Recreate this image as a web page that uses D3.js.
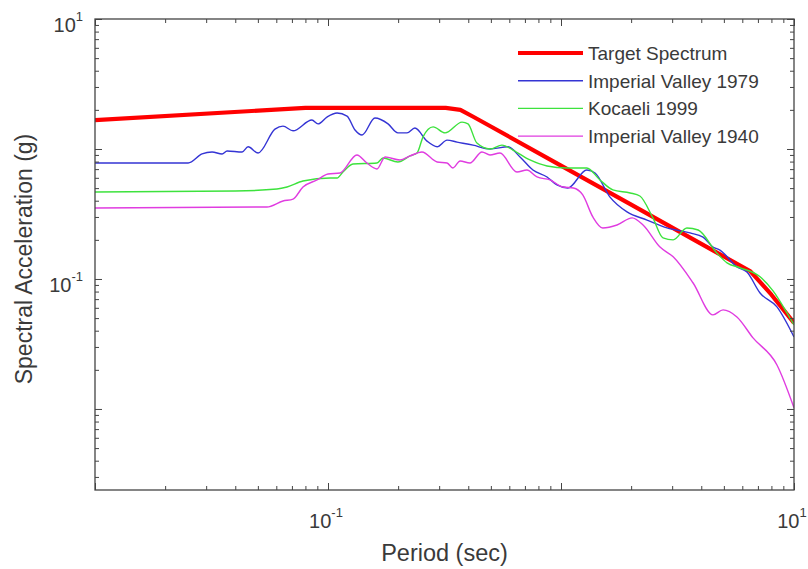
<!DOCTYPE html>
<html><head><meta charset="utf-8">
<script src="https://cdn.jsdelivr.net/npm/d3@7"></script>
<style>
body{margin:0;background:#fff}
svg{display:block}
text{font-family:"Liberation Sans",Arial,sans-serif;fill:#3a3a3a}
</style>
</head><body>
<svg id="chart" width="808" height="569"></svg>
<script>
// axis limits and labelled decades
const periodDomain=[0.01,10];
const accelDomain=[0.00238,10];
const xTickLabels=[{v:0.1,exp:"-1"},{v:10,exp:"1"}];
const yTickLabels=[{v:10,exp:"1"},{v:0.1,exp:"-1"}];

const seriesNames=["Target Spectrum","Imperial Valley 1979","Kocaeli 1999","Imperial Valley 1940"];

// Target Spectrum
const targetT =[0.01,0.08,0.32,0.37,0.42,0.5,1,2,4,6.5,8,10];
const targetSa=[1.67,2.07,2.07,2.0,1.77,1.49,0.745,0.373,0.186,0.1146,0.0757,0.046];

// Imperial Valley 1979
const iv79T =[0.01,0.0251,0.0288,0.0318,0.0351,0.0369,0.0428,0.0454,0.0501,0.0592,0.0641,0.0708,0.0853,0.0906,0.099,0.1094,0.1207,0.1306,0.140,0.159,0.181,0.1995,0.2183,0.236,0.266,0.294,0.3243,0.358,0.419,0.4955,0.593,0.667,0.758,0.871,0.961,1.07,1.29,1.40,1.62,1.92,2.34,2.85,3.58,4.07,4.49,4.81,5.69,6.28,7.15,8.45,10];
const iv79Sa=[0.78,0.78,0.916,0.948,0.916,0.966,0.948,1.04,0.931,1.42,1.50,1.38,1.67,1.56,1.76,1.89,1.79,1.40,1.28,1.73,1.56,1.33,1.33,1.45,1.15,1.04,1.17,1.13,1.07,1.0,1.04,0.868,0.689,0.609,0.529,0.501,0.689,0.654,0.428,0.328,0.284,0.247,0.226,0.21,0.176,0.167,0.124,0.113,0.078,0.061,0.0358];

// Kocaeli 1999
const koc99T =[0.01,0.04,0.0604,0.0667,0.0781,0.102,0.1094,0.1159,0.128,0.1622,0.1722,0.1995,0.2249,0.241,0.2558,0.2825,0.318,0.376,0.399,0.4356,0.4955,0.558,0.622,0.736,0.871,1.06,1.29,1.47,1.67,1.98,2.18,2.48,2.74,3.03,3.47,3.88,4.67,5.16,5.86,7.15,8.13,9.33,10];
const koc99Sa=[0.467,0.475,0.492,0.51,0.567,0.598,0.598,0.665,0.767,0.78,0.853,0.794,0.884,0.931,1.24,1.48,1.33,1.61,1.56,1.11,1.0,1.07,0.982,0.823,0.74,0.714,0.714,0.578,0.484,0.459,0.435,0.295,0.207,0.2,0.247,0.238,0.158,0.133,0.122,0.104,0.0809,0.0548,0.0443];

// Imperial Valley 1940
const iv40T =[0.01,0.0547,0.0641,0.0708,0.0781,0.0897,0.1,0.1127,0.1331,0.1469,0.1622,0.1758,0.2037,0.2249,0.253,0.294,0.3243,0.3436,0.369,0.4064,0.458,0.4955,0.547,0.647,0.714,0.789,0.897,1.02,1.13,1.24,1.37,1.51,1.74,2.02,2.25,2.66,3.03,3.69,4.49,4.96,5.69,6.67,8.45,10];
const iv40Sa=[0.352,0.358,0.398,0.412,0.51,0.578,0.642,0.654,0.9,0.78,0.702,0.868,0.823,0.884,0.948,0.794,0.78,0.714,0.809,0.78,0.948,0.9,0.931,0.665,0.689,0.609,0.578,0.51,0.501,0.443,0.3,0.247,0.26,0.295,0.26,0.176,0.148,0.0931,0.0529,0.0578,0.051,0.0352,0.0218,0.0102];

const series=[
  {name:seriesNames[0],T:targetT,Sa:targetSa,color:"#ff0000",width:4.2,curve:d3.curveLinear},
  {name:seriesNames[1],T:iv79T,Sa:iv79Sa,color:"#3434d4",width:1.4,curve:d3.curveMonotoneX},
  {name:seriesNames[2],T:koc99T,Sa:koc99Sa,color:"#3de23d",width:1.4,curve:d3.curveMonotoneX},
  {name:seriesNames[3],T:iv40T,Sa:iv40Sa,color:"#e03ce0",width:1.4,curve:d3.curveMonotoneX}
];

const svg=d3.select("#chart");
const m={top:19,right:14,bottom:79,left:95};
const W=808,H=569;

const x=d3.scaleLog().domain(periodDomain).range([m.left,W-m.right]);
const y=d3.scaleLog().domain(accelDomain).range([H-m.bottom,m.top]);

const xt=x.ticks();
const yt=y.ticks();
const isMajor=v=>Math.abs(Math.log10(v)-Math.round(Math.log10(v)))<1e-6;

svg.append("defs").append("clipPath").attr("id","plotclip")
  .append("rect").attr("x",m.left).attr("y",m.top)
  .attr("width",W-m.right-m.left).attr("height",H-m.bottom-m.top);

// curves
const plot=svg.append("g").attr("clip-path","url(#plotclip)");
series.forEach(s=>{
  const line=d3.line().curve(s.curve).x(d=>x(d[0])).y(d=>y(d[1]));
  plot.append("path")
    .datum(s.T.map((t,i)=>[t,s.Sa[i]]))
    .attr("fill","none")
    .attr("stroke",s.color)
    .attr("stroke-width",s.width)
    .attr("stroke-linejoin","round")
    .attr("d",line);
});

// axes with inward ticks on all four sides
function tickAxes(axisFn,scale,vals,transform){
  [[vals.filter(v=>!isMajor(v)),4],[vals.filter(isMajor),7]].forEach(([tv,len])=>{
    svg.append("g").attr("transform",transform)
      .call(axisFn(scale).tickValues(tv).tickSize(-len).tickSizeOuter(0).tickFormat(""))
      .call(g=>g.select(".domain").remove())
      .call(g=>g.selectAll(".tick line").attr("stroke","#444"));
  });
}
tickAxes(d3.axisBottom,x,xt,`translate(0,${H-m.bottom})`);
tickAxes(d3.axisTop,x,xt,`translate(0,${m.top})`);
tickAxes(d3.axisLeft,y,yt,`translate(${m.left},0)`);
tickAxes(d3.axisRight,y,yt,`translate(${W-m.right},0)`);

svg.append("rect")
  .attr("x",m.left).attr("y",m.top)
  .attr("width",W-m.right-m.left).attr("height",H-m.bottom-m.top)
  .attr("fill","none").attr("stroke","#444").attr("stroke-width",1.3);

// tick labels 10^n
xTickLabels.forEach(d=>{
  const t=svg.append("text").attr("x",x(d.v)-2).attr("y",H-m.bottom+38)
    .attr("text-anchor","middle").attr("font-size","20px");
  t.append("tspan").text("10");
  t.append("tspan").attr("dy",-11).attr("font-size","13px").text(d.exp);
});
yTickLabels.forEach(d=>{
  const t=svg.append("text").attr("x",m.left-12).attr("y",y(d.v)+13)
    .attr("text-anchor","end").attr("font-size","20px");
  t.append("tspan").text("10");
  t.append("tspan").attr("dy",-11).attr("font-size","13px").text(d.exp);
});

// axis titles
svg.append("text")
  .attr("x",(m.left+W-m.right)/2).attr("y",H-8)
  .attr("text-anchor","middle").attr("font-size","23.5px")
  .text("Period (sec)");
svg.append("text")
  .attr("transform",`translate(32,259) rotate(-90)`)
  .attr("text-anchor","middle").attr("font-size","23px")
  .text("Spectral Acceleration (g)");

// legend
const lg=svg.append("g").attr("transform","translate(518,53)");
series.forEach((s,i)=>{
  const gy=i*27.7;
  lg.append("line").attr("x1",0).attr("x2",65).attr("y1",gy).attr("y2",gy)
    .attr("stroke",s.color).attr("stroke-width",s.width);
  lg.append("text").attr("x",70).attr("y",gy).attr("dy","0.36em")
    .attr("font-size","19px").text(s.name);
});
</script>
</body></html>
